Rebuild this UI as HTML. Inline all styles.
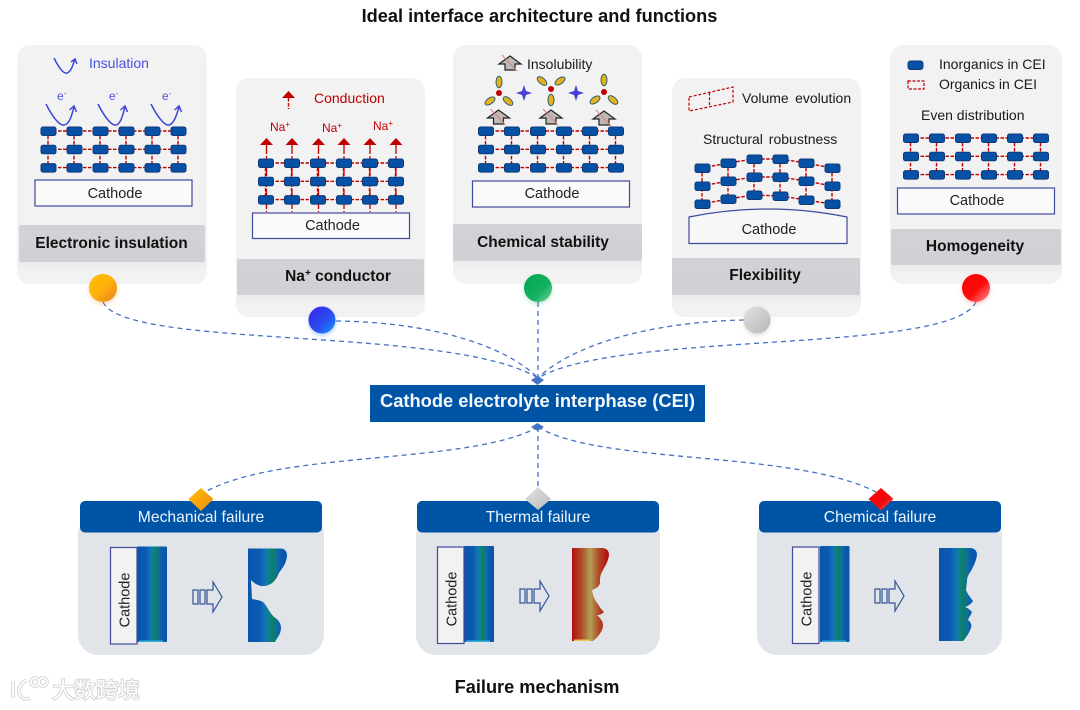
<!DOCTYPE html>
<html><head><meta charset="utf-8"><style>
html,body{margin:0;padding:0;background:#fff;width:1080px;height:710px;overflow:hidden}
svg{display:block;filter:blur(.3px)}
text{font-family:"Liberation Sans","Noto Sans CJK SC",sans-serif;fill:#1a1a1a}
.t{font-size:14px}
.b{font-weight:bold;font-size:15.5px;fill:#111;text-anchor:middle}
.c{font-size:14.5px;text-anchor:middle;fill:#222}
.w{font-size:15.7px;fill:#eef4fb;text-anchor:middle}
.red{fill:#c00000}
.blue{fill:#4a50e0}
.cx{fill:#fff;stroke:#3f4a9c;stroke-width:1.2}
.cy{fill:#f2f2f3;stroke:#3f4a9c;stroke-width:1.2}
.blk{fill:#0650a6;stroke:#0e3a78;stroke-width:1}
.rd{stroke:#c00000;stroke-width:1.400;stroke-dasharray:3.500 1.500;fill:none}
.con{fill:none;stroke:#4472c4;stroke-width:1.3;stroke-dasharray:5 4}
.e{fill:none;stroke:#3b46d8;stroke-width:1.500}
.el{fill:#e3b21c;stroke:#2f6272;stroke-width:1}
</style></head><body>
<svg width="1080" height="710" viewBox="0 0 1080 710" xmlns="http://www.w3.org/2000/svg">
<defs>
<g id="lat">
<path class="rd" d="M7 4H137M7 22.300H137M7 40.600H137M7 4V40M33 4V40M59 4V40M85 4V40M111 4V40M137 4V40"/>
<g id="row"><rect class="blk" x="0" y="0" width="15" height="8.500" rx="2"/><rect class="blk" x="26" y="0" width="15" height="8.500" rx="2"/><rect class="blk" x="52" y="0" width="15" height="8.500" rx="2"/><rect class="blk" x="78" y="0" width="15" height="8.500" rx="2"/><rect class="blk" x="104" y="0" width="15" height="8.500" rx="2"/><rect class="blk" x="130" y="0" width="15" height="8.500" rx="2"/></g>
<use href="#row" y="18.300"/><use href="#row" y="36.600"/>
</g>
<linearGradient id="gb" x1="0" x2="1" y1="0" y2="0"><stop offset="0" stop-color="#0a55ad"/><stop offset=".3" stop-color="#0b5ab2"/><stop offset=".42" stop-color="#1270b8"/><stop offset=".52" stop-color="#10809a"/><stop offset=".62" stop-color="#0c8060"/><stop offset=".72" stop-color="#0f7298"/><stop offset=".85" stop-color="#0a5aaf"/><stop offset="1" stop-color="#0a55ad"/></linearGradient>
<linearGradient id="gr" x1="0" x2="1" y1="0" y2="0"><stop offset="0" stop-color="#b30e0e"/><stop offset=".25" stop-color="#b04a28"/><stop offset=".5" stop-color="#b3a055"/><stop offset=".72" stop-color="#b04a28"/><stop offset="1" stop-color="#b30606"/></linearGradient>
<linearGradient id="bar" x1="0" x2="0" y1="0" y2="1"><stop offset="0" stop-color="#d0d2d6"/><stop offset="1" stop-color="#cfd1d5"/></linearGradient>
<linearGradient id="sh" x1="0" x2="0" y1="0" y2="1"><stop offset="0" stop-color="#eaebec"/><stop offset="1" stop-color="#f2f2f3"/></linearGradient>
<linearGradient id="c1" x1="0" x2="1" y1="0" y2="1"><stop offset="0" stop-color="#ffc000"/><stop offset=".5" stop-color="#fdb10a"/><stop offset="1" stop-color="#ed7d20"/></linearGradient>
<linearGradient id="c2" x1="0" x2="1" y1="0" y2="1"><stop offset="0" stop-color="#3a20e8"/><stop offset=".6" stop-color="#2a50f0"/><stop offset="1" stop-color="#10a0f8"/></linearGradient>
<linearGradient id="c3" x1="0" x2="1" y1="0" y2="1"><stop offset="0" stop-color="#00a850"/><stop offset=".6" stop-color="#14b060"/><stop offset="1" stop-color="#7cd09a"/></linearGradient>
<linearGradient id="c4" x1="0" x2="1" y1="0" y2="1"><stop offset="0" stop-color="#e0e0e0"/><stop offset="1" stop-color="#b8b8b8"/></linearGradient>
<linearGradient id="c5" x1="0" x2="1" y1="0" y2="1"><stop offset="0" stop-color="#ff0000"/><stop offset=".55" stop-color="#ff0a0a"/><stop offset="1" stop-color="#f8a0a0"/></linearGradient>
<linearGradient id="d1" x1="0" x2="1" y1="0" y2="1"><stop offset="0" stop-color="#ffc000"/><stop offset="1" stop-color="#ee8a10"/></linearGradient>
<linearGradient id="d2" x1="0" x2="1" y1="0" y2="1"><stop offset="0" stop-color="#e2e2e2"/><stop offset="1" stop-color="#bcbcbc"/></linearGradient>
<linearGradient id="d3" x1="0" x2="1" y1="0" y2="1"><stop offset="0" stop-color="#f00"/><stop offset=".6" stop-color="#f00a0a"/><stop offset="1" stop-color="#f46060"/></linearGradient>
<g id="nope">
<path d="M0 -7L11 1H5V7H-5V1H-11Z" fill="#bdb9b7" stroke="#222" stroke-width="1.200"/>
<path d="M-8 -8L7 8" stroke="#d88080" stroke-width="1"/>
</g>
<g id="star"><path d="M0 -8L2 -2L8 0L2 2L0 8L-2 2L-8 0L-2 -2Z" fill="#4a3fd8"/></g>
<g id="rar"><path d="M-6.500 3.500L0 -3.500L6.500 3.500Z" fill="#c00000"/></g>
<g id="arw" fill="none" stroke="#2f5597" stroke-width="1.200"><rect x="0" y="8" width="5" height="14"/><rect x="7" y="8" width="5" height="14"/><path d="M14 8H20V0L29 15L20 30V22H14Z" fill="#e1e4e8"/></g>
</defs>

<rect width="1080" height="710" fill="#fff"/>
<text x="539.500" y="22" text-anchor="middle" font-weight="bold" font-size="18.200px" style="fill:#111">Ideal interface architecture and functions</text>

<!-- cards -->
<rect x="17" y="45" width="190" height="239" rx="13" fill="#f2f2f3"/>
<rect x="236" y="78" width="189" height="239" rx="13" fill="#f2f2f3"/>
<rect x="453" y="45" width="189" height="239" rx="13" fill="#f2f2f3"/>
<rect x="672" y="78" width="189" height="239" rx="13" fill="#f2f2f3"/>
<rect x="890" y="45" width="172" height="239" rx="13" fill="#f2f2f3"/>

<rect x="19" y="262" width="186" height="10" fill="url(#sh)"/>
<rect x="237" y="295" width="187" height="10" fill="url(#sh)"/>
<rect x="453" y="261" width="189" height="10" fill="url(#sh)"/>
<rect x="672" y="295" width="189" height="10" fill="url(#sh)"/>
<rect x="891" y="265" width="171" height="10" fill="url(#sh)"/>

<rect x="19" y="225" width="186" height="37" rx="2" fill="url(#bar)"/>
<rect x="237" y="259" width="187" height="36" rx="2" fill="url(#bar)"/>
<rect x="453" y="224" width="189" height="37" rx="2" fill="url(#bar)"/>
<rect x="672" y="258" width="188" height="37" rx="2" fill="url(#bar)"/>
<rect x="891" y="229" width="170" height="36" rx="2" fill="url(#bar)"/>

<text class="b" x="111.500" y="248">Electronic insulation</text>
<text class="b" x="338" y="281">Na<tspan font-size="10" dy="-5">+</tspan><tspan dy="5"> conductor</tspan></text>
<text class="b" x="543" y="247">Chemical stability</text>
<text class="b" x="765" y="280">Flexibility</text>
<text class="b" x="975" y="251">Homogeneity</text>

<!-- card 1 content -->
<path class="e" d="M54 58C60 70 64 74 67 73C71 72 73 65 75 59M71 62L75 59L77 64"/>
<text class="t blue" x="89" y="68">Insulation</text>
<text x="57" y="100" font-size="12" class="blue">e<tspan font-size="8" dy="-4">-</tspan></text>
<text x="109" y="100" font-size="12" class="blue">e<tspan font-size="8" dy="-4">-</tspan></text>
<text x="162" y="100" font-size="12" class="blue">e<tspan font-size="8" dy="-4">-</tspan></text>
<path class="e" d="M46 104C53 118 60 126 64 125C70 124 72 114 74 107M69.500 110L74 106L76.500 112"/>
<path class="e" d="M98 104C105 118 112 126 116 125C121 124 123 114 125 107M120.500 110L125 106L127.500 112"/>
<path class="e" d="M151 104C158 118 165 126 169 125C174 124 177 114 179 107M174.500 110L179 106L181.500 112"/>
<use href="#lat" x="41" y="127"/>
<rect class="cx" x="35" y="180" width="157" height="26" style="fill:#fafafb"/>
<text class="c" x="115" y="198">Cathode</text>

<!-- card 2 content -->
<use href="#rar" x="288.500" y="94.500"/>
<path class="rd" d="M288.500 98V109"/>
<text class="t red" x="314" y="103">Conduction</text>
<g font-size="12"><text class="red" x="270" y="131" font-size="12">Na<tspan font-size="8" dy="-4">+</tspan></text>
<text class="red" x="322" y="132" font-size="12">Na<tspan font-size="8" dy="-4">+</tspan></text>
<text class="red" x="373" y="130" font-size="12">Na<tspan font-size="8" dy="-4">+</tspan></text></g>
<path d="M266.500 145V212M292 145V212M318.500 145V212M344 145V212M370 145V212M396 145V212" stroke="#c00000" stroke-width="1.300" stroke-dasharray="9 2" fill="none"/>
<use href="#rar" x="266.500" y="141.500"/><use href="#rar" x="292" y="141.500"/><use href="#rar" x="318.500" y="141.500"/><use href="#rar" x="344" y="141.500"/><use href="#rar" x="370" y="141.500"/><use href="#rar" x="396" y="141.500"/>
<use href="#lat" x="258.500" y="159"/>
<rect class="cx" x="252.500" y="213" width="157" height="25.500" style="fill:#fafafb"/>
<text class="c" x="332.500" y="230">Cathode</text>

<!-- card 3 content -->
<use href="#nope" x="510" y="63"/>
<text class="t" x="527" y="69">Insolubility</text>
<g>
<ellipse class="el" cx="499" cy="82" rx="3" ry="5.700"/>
<ellipse class="el" transform="rotate(55 490 101)" cx="490" cy="101" rx="3" ry="5.700"/>
<ellipse class="el" transform="rotate(-50 508 101)" cx="508" cy="101" rx="3" ry="5.700"/>
<circle cx="499" cy="93" r="3" fill="#c00000"/>
<ellipse class="el" transform="rotate(-50 542 81)" cx="542" cy="81" rx="3" ry="5.700"/>
<ellipse class="el" transform="rotate(55 560 81)" cx="560" cy="81" rx="3" ry="5.700"/>
<ellipse class="el" cx="551" cy="100" rx="3" ry="5.700"/>
<circle cx="551" cy="89" r="3" fill="#c00000"/>
<ellipse class="el" cx="604" cy="80" rx="3" ry="5.700"/>
<ellipse class="el" transform="rotate(55 595 100)" cx="595" cy="100" rx="3" ry="5.700"/>
<ellipse class="el" transform="rotate(-50 613 100)" cx="613" cy="100" rx="3" ry="5.700"/>
<circle cx="604" cy="92" r="3" fill="#c00000"/>
</g>
<use href="#star" x="524" y="93"/><use href="#star" x="576" y="93"/>
<use href="#nope" x="498.500" y="117"/><use href="#nope" x="551" y="117"/><use href="#nope" x="604" y="118"/>
<use href="#lat" x="478.500" y="127"/>
<rect class="cx" x="472.500" y="181" width="157" height="26" style="fill:#fafafb"/>
<text class="c" x="552" y="198">Cathode</text>

<!-- card 4 content -->
<path d="M689 97L733 87V102L689 111ZM709.500 92.500V106.500" fill="none" stroke="#c00000" stroke-width="1.200" stroke-dasharray="3 1.800"/>
<text class="t" x="742" y="103" word-spacing="2.500">Volume evolution</text>
<text class="t" x="703" y="144" word-spacing="2">Structural robustness</text>
<path class="rd" d="M702 168L728 163L754 159L780 159L806 163L832 168M702 186L728 181L754 177L780 177L806 181L832 186M702 204L728 199L754 195L780 196L806 200L832 204M702 168V204M728 163V199M754 159V195M780 159V196M806 163V200M832 168V204"/>
<g>
<rect class="blk" x="695" y="164" width="15" height="8.500" rx="2"/><rect class="blk" x="721" y="159" width="15" height="8.500" rx="2"/><rect class="blk" x="747" y="155" width="15" height="8.500" rx="2"/><rect class="blk" x="773" y="155" width="15" height="8.500" rx="2"/><rect class="blk" x="799" y="159" width="15" height="8.500" rx="2"/><rect class="blk" x="825" y="164" width="15" height="8.500" rx="2"/>
<rect class="blk" x="695" y="182" width="15" height="8.500" rx="2"/><rect class="blk" x="721" y="177" width="15" height="8.500" rx="2"/><rect class="blk" x="747" y="173" width="15" height="8.500" rx="2"/><rect class="blk" x="773" y="173" width="15" height="8.500" rx="2"/><rect class="blk" x="799" y="177" width="15" height="8.500" rx="2"/><rect class="blk" x="825" y="182" width="15" height="8.500" rx="2"/>
<rect class="blk" x="695" y="200" width="15" height="8.500" rx="2"/><rect class="blk" x="721" y="195" width="15" height="8.500" rx="2"/><rect class="blk" x="747" y="191" width="15" height="8.500" rx="2"/><rect class="blk" x="773" y="192" width="15" height="8.500" rx="2"/><rect class="blk" x="799" y="196" width="15" height="8.500" rx="2"/><rect class="blk" x="825" y="200" width="15" height="8.500" rx="2"/>
</g>
<path d="M689 217Q768 201 847 217V243.500H689Z" fill="#f7f7f8" stroke="#3f4a9c" stroke-width="1.200"/>
<text class="c" x="769" y="234">Cathode</text>

<!-- card 5 content -->
<rect class="blk" x="908" y="61" width="15" height="8.500" rx="2.500"/>
<rect x="908" y="81" width="16" height="8" fill="none" stroke="#c00000" stroke-width="1.200" stroke-dasharray="3 1.500"/>
<text class="t" x="939" y="69">Inorganics in CEI</text>
<text class="t" x="939" y="89">Organics in CEI</text>
<text class="t" x="921" y="120">Even distribution</text>
<use href="#lat" x="903.500" y="134"/>
<rect class="cx" x="897.500" y="188" width="157" height="26" style="fill:#fafafb"/>
<text class="c" x="977" y="205">Cathode</text>

<!-- connectors -->
<path class="con" d="M103 302C125 350 450 325 538 378"/>
<path class="con" d="M336 321C430 322 505 345 538 378"/>
<path class="con" d="M538 302V378"/>
<path class="con" d="M744 320C650 322 572 345 538 378"/>
<path class="con" d="M976 302C950 355 620 330 538 378"/>
<path class="con" d="M538 427C470 465 280 450 205 492"/>
<path class="con" d="M538 427V490"/>
<path class="con" d="M538 427C600 465 795 450 876 492"/>
<path d="M531 380L537.500 376L544 380L537.500 385Z" fill="#4472c4"/>
<path d="M531 427L537.500 423L544 427L537.500 431Z" fill="#4472c4"/>

<!-- circles -->
<circle cx="103" cy="288" r="14" fill="url(#c1)" style="filter:drop-shadow(0 2px 2px rgba(240,160,40,.35))"/>
<circle cx="322" cy="320" r="13.500" fill="url(#c2)" style="filter:drop-shadow(0 2px 2px rgba(40,120,250,.35))"/>
<circle cx="538" cy="288" r="14" fill="url(#c3)" style="filter:drop-shadow(0 2px 2px rgba(40,180,110,.3))"/>
<circle cx="757" cy="320" r="13.500" fill="url(#c4)" style="filter:drop-shadow(0 2px 2px rgba(160,160,160,.3))"/>
<circle cx="976" cy="288" r="14" fill="url(#c5)" style="filter:drop-shadow(0 2px 2px rgba(250,90,90,.3))"/>

<!-- CEI -->
<rect x="370" y="385" width="335" height="37" fill="#0054a6"/>
<text x="537.500" y="407" text-anchor="middle" font-weight="bold" font-size="18.300px" style="fill:#f4f8fc">Cathode electrolyte interphase (CEI)</text>

<!-- bottom panels -->
<rect x="78" y="515" width="246" height="140" rx="20" fill="#e1e4e8"/>
<rect x="416" y="515" width="244" height="140" rx="20" fill="#e1e4e8"/>
<rect x="757" y="515" width="245" height="140" rx="20" fill="#e1e4e8"/>
<rect x="80" y="501" width="242" height="31.500" rx="5" fill="#0054a6"/>
<rect x="417" y="501" width="242" height="31.500" rx="5" fill="#0054a6"/>
<rect x="759" y="501" width="242" height="31.500" rx="5" fill="#0054a6"/>
<path d="M201 488L213.500 499L201 511L188.500 499Z" fill="url(#d1)"/>
<path d="M538 487L551 499L538 510L525 499Z" fill="url(#d2)"/>
<path d="M881 488L893.500 499L881 510.500L868.500 499Z" fill="url(#d3)"/>
<text class="w" x="201" y="522">Mechanical failure</text>
<text class="w" x="538" y="522">Thermal failure</text>
<text class="w" x="880" y="522">Chemical failure</text>

<!-- panel 1 -->
<rect x="137" y="546.500" width="30" height="95.500" rx="1" fill="url(#gb)"/>
<rect x="139" y="640.500" width="24" height="1.500" fill="#35b0dd"/>
<rect class="cy" x="110.500" y="547.500" width="26.500" height="96.500"/>
<text class="c" transform="translate(129.500 600) rotate(-90)" x="0" y="0">Cathode</text>
<use href="#arw" x="193" y="582"/>
<path d="M248 548.500H281Q287 549 287 556C286 566 280 570 278 575C275 582 270 586 263 586C258 586 254 583 251 580L252 599C258 600 262 601 264 603C268 608 270 613 274 617C279 620 281 624 281 628C281 634 277 638 275 642H248Z" fill="url(#gb)"/>

<!-- panel 2 -->
<rect x="464" y="546" width="30" height="96" rx="1" fill="url(#gb)"/>
<rect x="466" y="640.500" width="24" height="1.500" fill="#35b0dd"/>
<rect class="cy" x="437.500" y="547" width="26.500" height="96.500"/>
<text class="c" transform="translate(456.500 599) rotate(-90)" x="0" y="0">Cathode</text>
<use href="#arw" x="520" y="581"/>
<path d="M572 548H603Q609 549 609 555C608 562 605 566 603 570C600 575 600 578 600 582C600 585 598 588 592 590C593 596 595 601 598 604C600 608 602 610 604 612C602 614 600 615 597 615C600 618 603 621 603 625C603 631 598 637 593 641H572Z" fill="url(#gr)"/>
<rect x="574" y="639.500" width="16" height="1.500" fill="#e8c850"/>

<!-- panel 3 -->
<rect x="820" y="546" width="29.500" height="96" rx="1" fill="url(#gb)"/>
<rect x="822" y="640.500" width="24" height="1.500" fill="#35b0dd"/>
<rect class="cy" x="792.500" y="547" width="26.500" height="96.500"/>
<text class="c" transform="translate(811.500 599) rotate(-90)" x="0" y="0">Cathode</text>
<use href="#arw" x="875" y="581"/>
<path d="M939 548H971Q977 549 977 555C976 562 973 567 971 571C968 575 967 578 967 581L966 590C968 595 971 598 973 601C971 604 968 606 965 607C968 608 970 610 972 612C971 615 969 617 968 620C971 622 972 625 971 628C969 633 966 638 963 641H939Z" fill="url(#gb)"/>

<text x="537" y="693" text-anchor="middle" font-weight="bold" font-size="18.200px" style="fill:#111">Failure mechanism</text>

<!-- watermark -->
<g fill="none" stroke="#d4d4d4" stroke-width="3.600">
<path d="M13 681V698M27 680C18 684 16 694 23 698C25 699 28 699 30 698"/>
<circle cx="35" cy="682" r="4"/><circle cx="43" cy="682" r="4"/>
</g>
<g fill="none" stroke="#fff" stroke-width="1.800">
<path d="M13 681V698M27 680C18 684 16 694 23 698C25 699 28 699 30 698"/>
<circle cx="35" cy="682" r="4"/><circle cx="43" cy="682" r="4"/>
</g>
<text x="52" y="698" font-size="22" style="fill:#fff;stroke:#d4d4d4;stroke-width:1.800px;paint-order:stroke">大数跨境</text>
</svg>
</body></html>
